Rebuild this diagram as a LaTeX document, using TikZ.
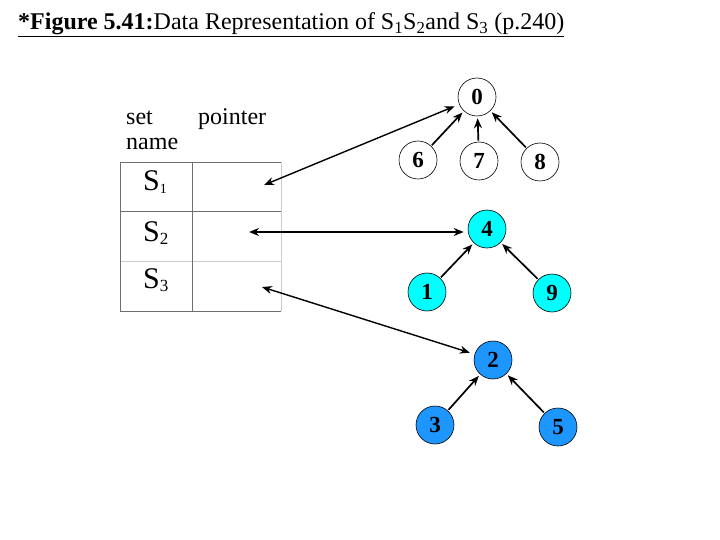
\documentclass[tikz,border=0pt]{standalone}
\usepackage{fontspec}
\setmainfont{Liberation Serif}
\usetikzlibrary{arrows.meta}
\definecolor{cyanfill}{RGB}{0,255,255}
\definecolor{bluefill}{RGB}{30,150,255}
\definecolor{gridgray}{RGB}{110,110,110}
\begin{document}
\begin{tikzpicture}[x=1pt,y=-1pt,
  tnode/.style={circle,draw=black,line width=0.6pt,minimum size=38pt,inner sep=0pt,font=\fontsize{23}{23}\selectfont\bfseries},
  wnode/.style={tnode,fill=white},
  cnode/.style={tnode,fill=cyanfill},
  bnode/.style={tnode,fill=bluefill},
  tarrow/.style={-{Stealth[length=10pt,width=8pt]},line width=1.7pt,shorten >=2pt,shorten <=1pt},
  parrow/.style={{Stealth[length=10pt,width=8pt]}-{Stealth[length=10pt,width=8pt]},line width=1.4pt},
  lbl/.style={font=\fontsize{24}{24}\selectfont,inner sep=0pt,anchor=base west},
  sname/.style={font=\fontsize{30}{30}\selectfont,inner sep=0pt,anchor=base west}
]
\useasboundingbox (0,0) rectangle (720,540);
% title
\node[anchor=base west,inner sep=0pt,font=\fontsize{24}{24}\selectfont] (title) at (18,30)
  {\underline{\textbf{*Figure 5.41:}Data Representation of S$_{\mathrm{1}}$S$_{\mathrm{2}}$and S$_{\mathrm{3}}$ (p.240)}};
% table
\node[lbl] (setl) at (126,125) {set};
\node[lbl] (namel) at (126,150) {name};
\node[lbl] (ptrl) at (198,125) {pointer};
\draw[gridgray,line width=0.8pt] (120,162) -- (281,162);
\draw[gridgray,line width=0.8pt] (120,211) -- (281,211);
\draw[gray!40,line width=0.8pt] (120,261) -- (281,261);
\draw[gridgray,line width=0.8pt] (120,311) -- (281,311);
\draw[gridgray,line width=0.8pt] (120,162) -- (120,311);
\draw[gridgray,line width=0.8pt] (192,162) -- (192,311);
\draw[gray!40,line width=0.8pt] (281,162) -- (281,311);
\node[sname] (s1) at (143,191) {S\raisebox{-3pt}{\fontsize{14}{14}\selectfont 1}};
\node[sname] (s2) at (143,241) {S\raisebox{-3pt}{\fontsize{17}{17}\selectfont 2}};
\node[sname] (s3) at (143,288) {S\raisebox{-3pt}{\fontsize{17}{17}\selectfont 3}};
\coordinate (p1) at (264,185);
\coordinate (p2) at (249,232);
\coordinate (p3) at (262,287);
% trees
\node[wnode] (n0) at (477,97) {0};
\node[wnode] (n6) at (418,160) {6};
\node[wnode] (n7) at (479,161) {7};
\node[wnode] (n8) at (540,162) {8};
\node[cnode] (n4) at (487,229) {4};
\node[cnode] (n1) at (427,292) {1};
\node[cnode] (n9) at (552,293) {9};
\node[bnode] (n2) at (493,360) {2};
\node[bnode] (n3) at (435,425) {3};
\node[bnode] (n5) at (558,427) {5};
\draw[tarrow] (n6) -- (n0);
\draw[tarrow] (n7) -- (n0);
\draw[tarrow] (n8) -- (n0);
\draw[tarrow] (n1) -- (n4);
\draw[tarrow] (n9) -- (n4);
\draw[tarrow] (n3) -- (n2);
\draw[tarrow] (n5) -- (n2);
% pointers
\draw[parrow,shorten >=5pt] (p1) -- (n0);
\draw[parrow,shorten >=4pt] (p2) -- (p2 -| n4.west);
\draw[parrow,shorten >=5pt] (p3) -- (n2);
\end{tikzpicture}
\end{document}
